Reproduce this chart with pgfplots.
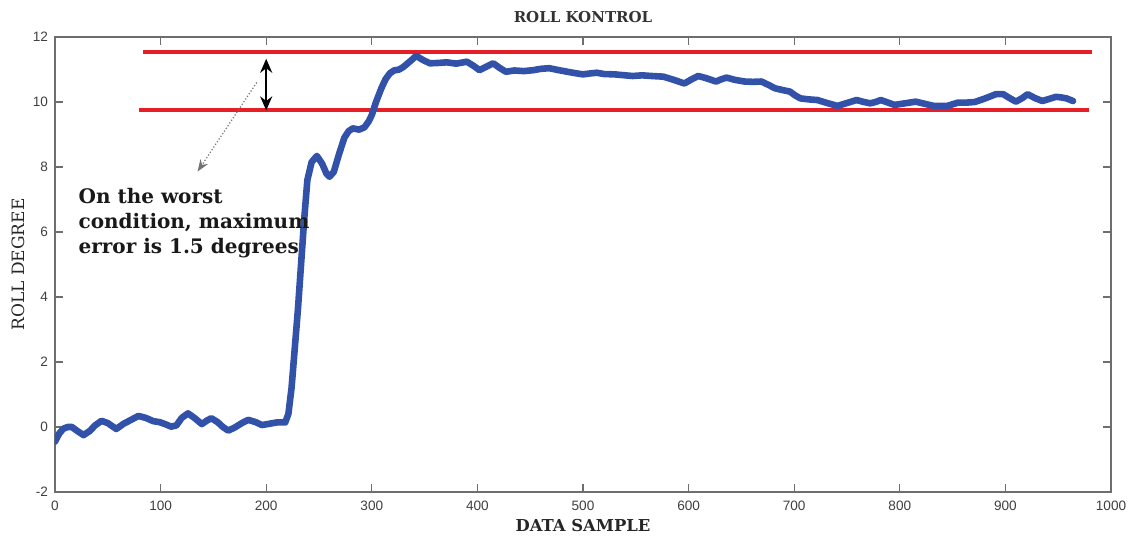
\documentclass[border=0pt]{standalone}
\usepackage{pgfplots}
\pgfplotsset{compat=1.18}
\usepackage{fontspec}
\setmainfont{DejaVu Serif}
\newfontfamily\ticksfont{Liberation Sans}
\usetikzlibrary{arrows.meta}
\definecolor{rollblue}{RGB}{50,82,170}
\definecolor{limred}{RGB}{230,30,38}
\definecolor{axgray}{RGB}{110,110,110}
\begin{document}
\begin{tikzpicture}
\begin{axis}[
  at={(0,0)}, anchor=south west,
  scale only axis, width=528pt, height=227.5pt,
  xmin=0, xmax=1000, ymin=-2, ymax=12,
  clip mode=individual,
  xtick={0,100,...,1000}, ytick={-2,0,...,12},
  tick align=inside, tick pos=both, major tick length=4pt,
  axis line style={axgray, line width=0.7pt},
  tick style={axgray, line width=0.6pt},
  /pgf/number format/assume math mode=true,
  /pgf/number format/1000 sep={},
  ticklabel style={font=\fontsize{6.8}{7}\selectfont\ticksfont, text=black!75},
  xticklabel style={yshift=-1pt},
  xlabel={\bfseries DATA SAMPLE},
  xlabel style={at={(axis description cs:0.5,-0.0747)}, anchor=center, font=\fontsize{8.2}{9}\selectfont, text=black!85},
  ylabel={ROLL DEGREE},
  ylabel style={at={(axis description cs:-0.035,0.5)}, anchor=center, font=\fontsize{8.5}{9}\selectfont, text=black!85},
]
\addplot[limred, line width=2pt] coordinates {(83,11.54) (982,11.54)};
\addplot[limred, line width=2pt] coordinates {(80,9.74) (979,9.74)};
\addplot[rollblue, line width=3.3pt, line join=round, line cap=round] coordinates {
(0,-0.45) (4,-0.2) (8,-0.05) (12,0.0) (16,0.0) (21,-0.12) (27,-0.25) (33,-0.12)
(38,0.05) (44,0.19) (50,0.12) (58,-0.06) (65,0.1) (72,0.22) (79,0.34) (86,0.28)
(93,0.18) (99,0.15) (105,0.08) (110,0.01) (115,0.05) (120,0.28) (126,0.42) (132,0.28)
(139,0.09) (144,0.2) (148,0.27) (154,0.15) (159,0.0) (164,-0.11) (170,-0.02) (177,0.12)
(183,0.22) (190,0.15) (196,0.06) (203,0.1) (210,0.14) (218,0.14) (221,0.4) (224,1.2)
(227,2.4) (230,3.6) (233,5.0) (236,6.4) (239,7.6) (243,8.15) (248,8.34) (253,8.1)
(257,7.8) (260,7.7) (264,7.85) (269,8.4) (274,8.9) (278,9.1) (282,9.19) (288,9.15)
(293,9.22) (297,9.4) (300,9.6) (304,10.0) (309,10.42) (313,10.7) (317,10.88) (321,10.97)
(326,11.0) (330,11.08) (334,11.19) (338,11.3) (342,11.42) (348,11.3) (355,11.19) (362,11.2)
(371,11.22) (380,11.18) (390,11.24) (396,11.12) (402,10.98) (408,11.08) (415,11.19) (421,11.05)
(427,10.93) (435,10.97) (444,10.95) (453,10.98) (460,11.02) (468,11.04) (477,10.98) (487,10.92)
(494,10.88) (500,10.85) (507,10.88) (513,10.9) (520,10.86) (530,10.85) (540,10.82) (547,10.8)
(556,10.82) (565,10.8) (576,10.78) (586,10.68) (596,10.57) (603,10.7) (609,10.8) (616,10.74)
(626,10.63) (631,10.7) (636,10.75) (644,10.68) (653,10.63) (661,10.62) (669,10.63) (676,10.52)
(682,10.42) (690,10.36) (696,10.32) (701,10.2) (706,10.11) (714,10.08) (722,10.06) (731,9.97)
(741,9.88) (750,9.97) (759,10.06) (766,10.0) (772,9.96) (777,10.0) (782,10.06) (789,9.98)
(795,9.91) (805,9.96) (815,10.01) (823,9.95) (832,9.88) (845,9.88) (855,9.98) (863,9.98)
(871,10.0) (880,10.1) (891,10.24) (898,10.24) (904,10.12) (910,10.01) (916,10.12) (921,10.24)
(928,10.12) (935,10.03) (942,10.1) (948,10.16) (953,10.14) (958,10.11) (964,10.03)
};
\draw[black, line width=1.2pt, {Stealth[length=7pt,width=6pt]}-{Stealth[length=7pt,width=6pt]}] (axis cs:200,9.74) -- (axis cs:200,11.33);
\draw[black!55, line width=0.6pt, densely dotted, -{Stealth[length=6pt,width=4.5pt]}] (axis cs:191,10.6) -- (axis cs:135,7.86);
\node[anchor=north west, align=left, inner sep=0pt, font=\fontsize{10}{12.5}\selectfont\bfseries, text=black!90] at (axis cs:22,7.37) {On the worst\\condition, maximum\\error is 1.5 degrees};
\node[anchor=center, font=\fontsize{7.5}{8}\selectfont\bfseries, text=black!80] at (axis description cs:0.5,1.044) {ROLL KONTROL};
\end{axis}
\pgfresetboundingbox
\path[use as bounding box] (-27.5pt,-24pt) rectangle (537.5pt,246pt);
\end{tikzpicture}
\end{document}
